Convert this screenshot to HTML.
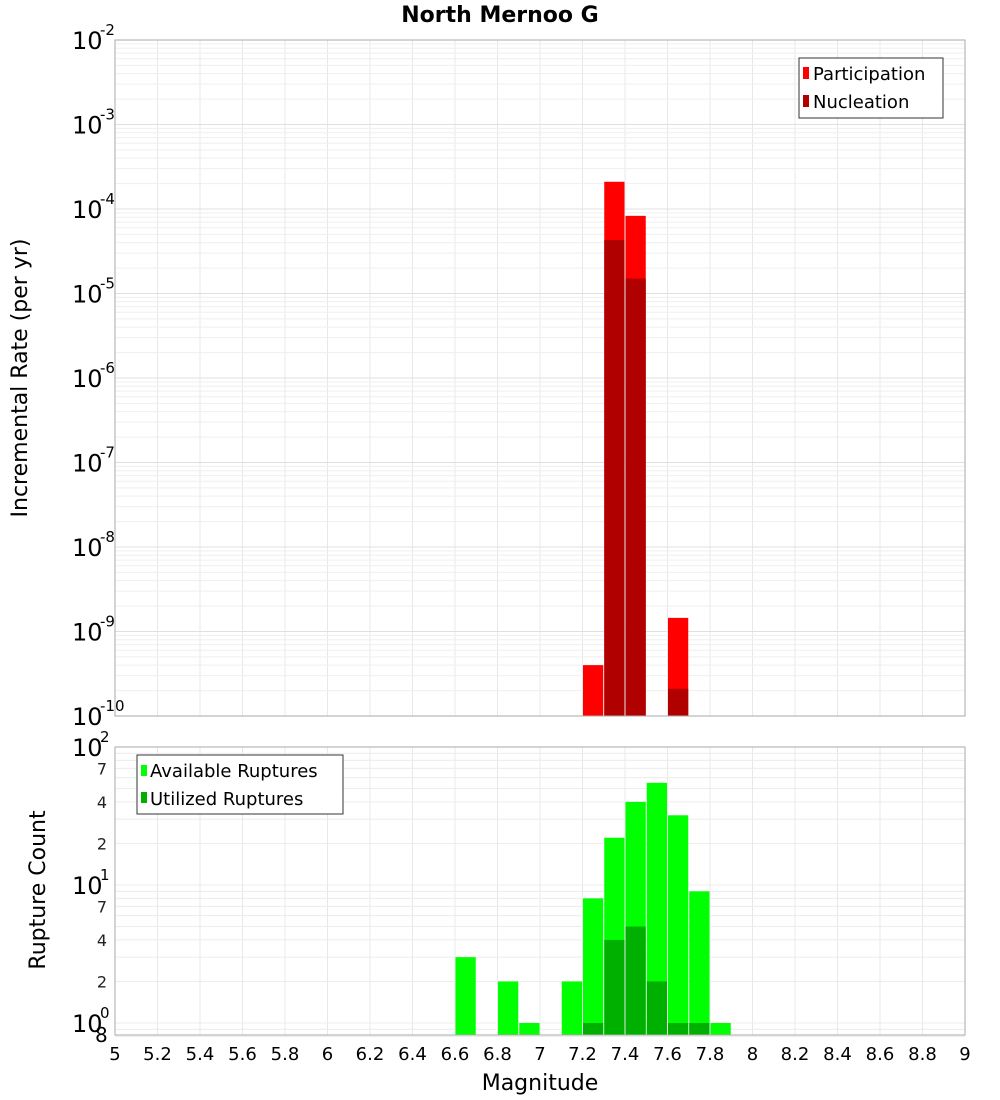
<!DOCTYPE html>
<html><head><meta charset="utf-8"><style>
body{margin:0;background:#fff}
svg{display:block;font-family:"DejaVu Sans","Liberation Sans",sans-serif}
</style></head><body>
<svg id="c" width="1000" height="1100">
<text x="500" y="22" text-anchor="middle" font-size="22" font-weight="bold">North Mernoo G</text>
<text transform="translate(27,378) rotate(-90)" text-anchor="middle" font-size="22">Incremental Rate (per yr)</text>
<text transform="translate(45,890) rotate(-90)" text-anchor="middle" font-size="22">Rupture Count</text>
<text x="540" y="1090" text-anchor="middle" font-size="22">Magnitude</text>
<g id="grid"></g><g id="bars"></g><g id="axes"></g>
<g>
<rect x="799" y="58" width="144" height="60" fill="#fff" stroke="#333"/>
<rect x="803" y="67" width="6" height="12" fill="#ff0000"/>
<text x="813" y="80" font-size="18">Participation</text>
<rect x="803" y="95" width="6" height="12" fill="#b00000"/>
<text x="813" y="108" font-size="18">Nucleation</text>
</g>
<g>
<rect x="137" y="755" width="206" height="59" fill="#fff" stroke="#333"/>
<rect x="141" y="765" width="6" height="11" fill="#00ff00"/>
<text x="150" y="777" font-size="18">Available Ruptures</text>
<rect x="141" y="792" width="6" height="11" fill="#00b000"/>
<text x="150" y="805" font-size="18">Utilized Ruptures</text>
</g>
</svg>
<script>
const mags=[7.25,7.35,7.45,7.65];
const participation=[4e-10,2.1e-4,8.3e-5,1.45e-9];
const nucleation=[0,4.3e-5,1.5e-5,2.1e-10];
const countMags=[6.65,6.85,6.95,7.15,7.25,7.35,7.45,7.55,7.65,7.75,7.85];
const available=[3,2,1,2,8,22,40,55,32,9,1];
const utilized=[0,0,0,0,1,4,5,2,1,1,0];
const xTicks=[5,5.2,5.4,5.6,5.8,6,6.2,6.4,6.6,6.8,7,7.2,7.4,7.6,7.8,8,8.2,8.4,8.6,8.8,9];
const L=115,R=965,T1=40,B1=716,T2=747,B2=1035;
const NS='http://www.w3.org/2000/svg';
const X=m=>L+(m-5)/4*(R-L);
const Y1=v=>B1-(Math.log10(v)+10)/8*(B1-T1);
const Y2=v=>T2+(2-Math.log10(v))*138;
function el(p,t,a){const e=document.createElementNS(NS,t);for(const k in a)e.setAttribute(k,a[k]);document.getElementById(p).appendChild(e);return e;}
// grid
for(const m of xTicks){
 const g1=el('grid','line',{x1:X(m),x2:X(m),y1:T1,y2:B1,stroke:'#e8e8e8'});
 
 
 const g2=el('grid','line',{x1:X(m),x2:X(m),y1:T2,y2:B2,stroke:'#e8e8e8'});
 
 
}
for(let d=-10;d<-2;d++)for(let k=1;k<10;k++){const y=Y1(k*Math.pow(10,d));
 const g=el('grid','line',{x1:L,x2:R,y1:y,y2:y,stroke:k==1?'#e0e0e0':'#efefef'});
 
 }
for(const v of [0.8,0.9,1,2,3,4,5,6,7,8,9,10,20,30,40,50,60,70,80,90]){const y=Y2(v);
 const g=el('grid','line',{x1:L,x2:R,y1:y,y2:y,stroke:'#ececec'});
 
 }
// bars
const w=(R-L)/40;
mags.forEach((m,i)=>{
 const y=Y1(participation[i]);
 const b=el('bars','rect',{x:X(m)-w/2+0.5,y:y,width:w-1,height:B1-y,fill:'#ff0000'});
 
 
 if(nucleation[i]>0){const y2=Y1(nucleation[i]);
 const n=el('bars','rect',{x:X(m)-w/2+0.5,y:y2,width:w-1,height:B1-y2,fill:'#b00000'});
 
 }
});
countMags.forEach((m,i)=>{
 const y=Y2(available[i]);
 const b=el('bars','rect',{x:X(m)-w/2+0.5,y:y,width:w-1,height:B2-y,fill:'#00ff00'});
 
 
 if(utilized[i]>0){const y2=Y2(utilized[i]);
 const n=el('bars','rect',{x:X(m)-w/2+0.5,y:y2,width:w-1,height:B2-y2,fill:'#00b000'});
 
 }
});
// frames
const f1=el('axes','rect',{x:L,y:T1,width:R-L,height:B1-T1,fill:'none',stroke:'#aaa'});


const f2=el('axes','rect',{x:L,y:T2,width:R-L,height:B2-T2,fill:'none',stroke:'#aaa'});


// x tick labels
for(const m of xTicks){const t=el('axes','text',{x:X(m),y:1060,'text-anchor':'middle','font-size':18});
 t.textContent=String(m);
 
 }
function pow(p,y,e,dy){
 const t=el('axes','text',{x:72,y:y+dy,'font-size':24});
 t.textContent='10';
 
 
 const s=el('axes','text',{x:100,y:y+dy-14,'font-size':15});
 s.textContent=e;
 
 }
for(let d=-10;d<=-2;d++)pow('axes',Y1(Math.pow(10,d)),String(d),9);
for(const d of [0,1,2])pow('axes',Y2(Math.pow(10,d)),String(d),9);
for(const v of [2,4,7,20,40,70]){const t=el('axes','text',{x:107,y:Y2(v)+6,'font-size':16,'text-anchor':'end',fill:'#222'});
 t.textContent=String(v).charAt(0);
 
 }
const e8=el('axes','text',{x:95,y:1042,'font-size':20});
e8.textContent='8';


</script>
</body></html>
